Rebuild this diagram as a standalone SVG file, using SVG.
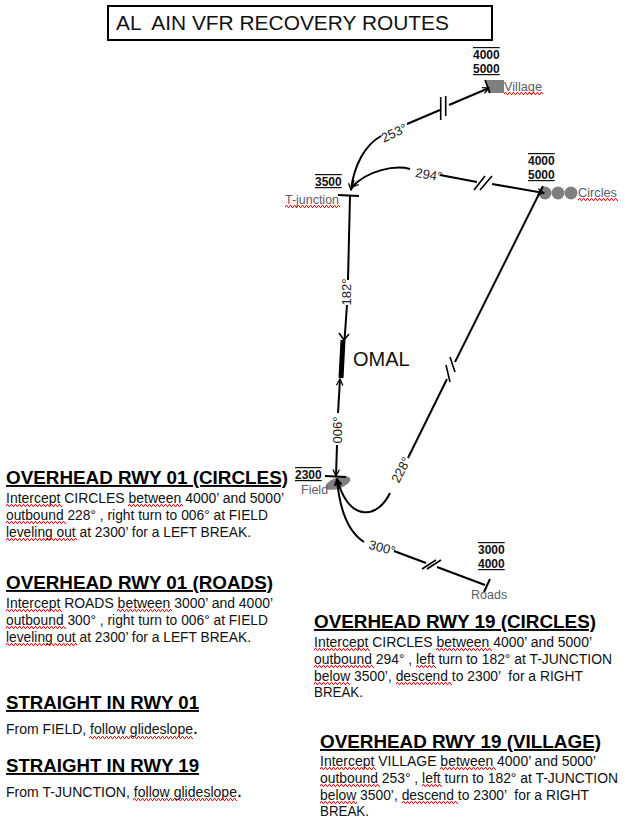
<svg xmlns="http://www.w3.org/2000/svg" width="625" height="825" viewBox="0 0 625 825">
<style>
text{font-family:"Liberation Sans",Arial,sans-serif;fill:#111}
.h{font-size:19px;font-weight:bold;text-decoration:underline;fill:#000}
.b{font-size:14px}
.ov{font-size:12px;font-weight:bold;fill:#111;text-decoration:overline}
.un{font-size:12px;font-weight:bold;fill:#111;text-decoration:underline}
.ou{font-size:12px;font-weight:bold;fill:#111;text-decoration:underline overline}
.lbl{font-size:12.5px;fill:#5c5c6c}
.deg{font-size:13px;fill:#222;text-anchor:middle}
.r{fill:none;stroke:#000;stroke-width:2}
.a{marker-end:url(#ar)}
.t{fill:none;stroke:#000;stroke-width:1.6}
.s{fill:#7f7f7f}
.q{fill:url(#sq)}
</style>
<defs>
<marker id="ar" viewBox="0 0 10 10" refX="9" refY="5" markerWidth="8" markerHeight="8" markerUnits="userSpaceOnUse" orient="auto"><path d="M1 1L9 5L1 9" fill="none" stroke="#000" stroke-width="1.6"/></marker>
<pattern id="sq" patternUnits="userSpaceOnUse" width="4" height="3"><path d="M0 2.500L1 .5L2 .5L3 2.500L4 2.500" fill="none" stroke="#e01010" stroke-width="1"/></pattern>
</defs>
<g id="title">
<rect x="108" y="6" width="384" height="34" fill="#fff" stroke="#000" stroke-width="2"/>
<text x="116" y="30" font-size="20" xml:space="preserve" textLength="333" lengthAdjust="spacingAndGlyphs">AL  AIN VFR RECOVERY ROUTES</text>
</g>
<g id="village">
<path class="s" d="M485 80H504V93H488Z"/>
<path class="t" d="M485 80L490 93"/>
<text class="lbl" x="504" y="91" textLength="38" lengthAdjust="spacingAndGlyphs">Village</text>
<rect class="q" width="39" height="3" transform="translate(504 92)"/>
<text class="ov" x="473" y="59">4000</text>
<text class="un" x="473" y="73">5000</text>
</g>
<g id="circles">
<circle class="s" cx="545" cy="193" r="6.500"/><circle class="s" cx="558" cy="193" r="6.500"/><circle class="s" cx="571" cy="193" r="6.500"/>
<text class="lbl" x="578" y="197" textLength="39" lengthAdjust="spacingAndGlyphs">Circles</text>
<rect class="q" width="40" height="3" transform="translate(578 198)"/>
<text class="ov" x="528" y="165">4000</text>
<text class="un" x="528" y="179">5000</text>
</g>
<g id="t-junction">
<path class="r" d="M338 195L359 196"/>
<text class="lbl" x="285" y="204" textLength="54" lengthAdjust="spacingAndGlyphs">T-junction</text>
<rect class="q" width="55" height="3" transform="translate(285 205)"/>
<text class="ou" x="315" y="186">3500</text>
</g>
<g id="omal">
<path d="M343 340L341 378" stroke="#000" stroke-width="5" fill="none"/>
<text x="353" y="366" font-size="20" fill="#000">OMAL</text>
</g>
<g id="field">
<ellipse class="s" cx="338" cy="483" rx="13" ry="5.500" transform="rotate(-20 338 483)"/>
<path class="r" d="M325 476L346 477"/>
<text class="lbl" x="301" y="494">Field</text>
<text class="ou" x="295" y="479">2300</text>
</g>
<g id="roads">
<path class="r" d="M490 579L484 592"/>
<text class="lbl" x="471" y="599">Roads</text>
<text class="ov" x="478" y="554">3000</text>
<text class="un" x="478" y="568">4000</text>
</g>
<g id="connectors">
<path class="r a" d="M449 105L489 88"/>
<path class="r" d="M407 124L440 110"/>
<path class="r a" d="M381 136C365 145 354 165 351 190"/>
<path class="t" d="M440.700 97V120M445.700 96V116"/>
<text class="deg" transform="translate(396 137) rotate(-25)">253°</text>
<path class="r a" d="M492 184L544 193"/>
<path class="r" d="M440 175L477 182"/>
<path class="r a" d="M410 169C395 165 368 170 352 187"/>
<path class="t" d="M474 190L485 176M480 190L492 176"/>
<text class="deg" transform="translate(428 179) rotate(10)">294°</text>
<path class="r" d="M350 196L348 280M347 305L344.500 340"/>
<path d="M339 333L344 340L349 334" fill="none" stroke="#000" stroke-width="1.6"/>
<text class="deg" transform="translate(351 292) rotate(-90)">182°</text>
<path class="r a" d="M338 413L340 379"/>
<path class="r a" d="M337 445L336 476"/>
<text class="deg" transform="translate(342 430) rotate(-90)">006°</text>
<path class="r" d="M543 186L455 362"/>
<path class="r" d="M447 379L408 458"/>
<path class="t" d="M446 365L450 382M450 357L455 372"/>
<text class="deg" transform="translate(405 472) rotate(-62)">228°</text>
<path class="r a" d="M390 493C378 518 350 524 337 479"/>
<path class="r a" d="M364 542C350 533 340 515 337 479"/>
<path class="r" d="M394 551L426 563M437 567L485 585"/>
<path class="t" d="M422 569L436 560M427 569L441 560"/>
<text class="deg" transform="translate(381 552) rotate(15)">300°</text>
</g>
<g id="overhead-01-circles">
<text class="h" x="6" y="484" textLength="282" lengthAdjust="spacingAndGlyphs">OVERHEAD RWY 01 (CIRCLES)</text>
<text class="b" x="6" y="503" textLength="278" lengthAdjust="spacingAndGlyphs">Intercept CIRCLES between 4000’ and 5000’</text>
<text class="b" x="6" y="520" textLength="262" lengthAdjust="spacingAndGlyphs">outbound 228° , right turn to 006° at FIELD</text>
<text class="b" x="6" y="537" textLength="245" lengthAdjust="spacingAndGlyphs">leveling out at 2300’ for a LEFT BREAK.</text>
<rect class="q" width="56" height="3" transform="translate(6 504)"/>
<rect class="q" width="55" height="3" transform="translate(128 504)"/>
<rect class="q" width="60" height="3" transform="translate(6 521)"/>
<rect class="q" width="71" height="3" transform="translate(6 538)"/>
</g>
<g id="overhead-01-roads">
<text class="h" x="6" y="589" textLength="267" lengthAdjust="spacingAndGlyphs">OVERHEAD RWY 01 (ROADS)</text>
<text class="b" x="6" y="608" textLength="267" lengthAdjust="spacingAndGlyphs">Intercept ROADS between 3000’ and 4000’</text>
<text class="b" x="6" y="625" textLength="262" lengthAdjust="spacingAndGlyphs">outbound 300° , right turn to 006° at FIELD</text>
<text class="b" x="6" y="642" textLength="245" lengthAdjust="spacingAndGlyphs">leveling out at 2300’ for a LEFT BREAK.</text>
<rect class="q" width="56" height="3" transform="translate(6 609)"/>
<rect class="q" width="55" height="3" transform="translate(117 609)"/>
<rect class="q" width="60" height="3" transform="translate(6 626)"/>
<rect class="q" width="71" height="3" transform="translate(6 643)"/>
</g>
<g id="straight-01">
<text class="h" x="6" y="709" textLength="193" lengthAdjust="spacingAndGlyphs">STRAIGHT IN RWY 01</text>
<text class="b" x="6" y="734" textLength="187" lengthAdjust="spacingAndGlyphs">From FIELD, follow glideslope</text>
<text class="b" x="193.500" y="734" font-weight="bold">.</text>
<rect class="q" width="104" height="3" transform="translate(89 736)"/>
</g>
<g id="straight-19">
<text class="h" x="6" y="772" textLength="193" lengthAdjust="spacingAndGlyphs">STRAIGHT IN RWY 19</text>
<text class="b" x="6" y="797" textLength="231" lengthAdjust="spacingAndGlyphs">From T-JUNCTION, follow glideslope</text>
<text class="b" x="237.500" y="797" font-weight="bold">.</text>
<rect class="q" width="104" height="3" transform="translate(133 798)"/>
</g>
<g id="overhead-19-circles">
<text class="h" x="314" y="628" textLength="282" lengthAdjust="spacingAndGlyphs">OVERHEAD RWY 19 (CIRCLES)</text>
<text class="b" x="314" y="647" textLength="278" lengthAdjust="spacingAndGlyphs">Intercept CIRCLES between 4000’ and 5000’</text>
<text class="b" x="314" y="664" textLength="298" lengthAdjust="spacingAndGlyphs">outbound 294° , left turn to 182° at T-JUNCTION</text>
<text class="b" x="314" y="681" textLength="269" lengthAdjust="spacingAndGlyphs" xml:space="preserve">below 3500’, descend to 2300’  for a RIGHT</text>
<text class="b" x="314" y="697" textLength="49" lengthAdjust="spacingAndGlyphs">BREAK.</text>
<rect class="q" width="56" height="3" transform="translate(314 648)"/>
<rect class="q" width="56" height="3" transform="translate(436 648)"/>
<rect class="q" width="60" height="3" transform="translate(314 665)"/>
<rect class="q" width="20" height="3" transform="translate(416 665)"/>
<rect class="q" width="36" height="3" transform="translate(314 682)"/>
<rect class="q" width="56" height="3" transform="translate(396 682)"/>
</g>
<g id="overhead-19-village">
<text class="h" x="320" y="748" textLength="281" lengthAdjust="spacingAndGlyphs">OVERHEAD RWY 19 (VILLAGE)</text>
<text class="b" x="320" y="766" textLength="276" lengthAdjust="spacingAndGlyphs">Intercept VILLAGE between 4000’ and 5000’</text>
<text class="b" x="320" y="783" textLength="298" lengthAdjust="spacingAndGlyphs">outbound 253° , left turn to 182° at T-JUNCTION</text>
<text class="b" x="320" y="800" textLength="269" lengthAdjust="spacingAndGlyphs" xml:space="preserve">below 3500’, descend to 2300’  for a RIGHT</text>
<text class="b" x="320" y="816" textLength="49" lengthAdjust="spacingAndGlyphs">BREAK.</text>
<rect class="q" width="56" height="3" transform="translate(320 767)"/>
<rect class="q" width="56" height="3" transform="translate(440 767)"/>
<rect class="q" width="60" height="3" transform="translate(320 784)"/>
<rect class="q" width="20" height="3" transform="translate(422 784)"/>
<rect class="q" width="37" height="3" transform="translate(320 801)"/>
<rect class="q" width="56" height="3" transform="translate(402 801)"/>
</g>
</svg>
